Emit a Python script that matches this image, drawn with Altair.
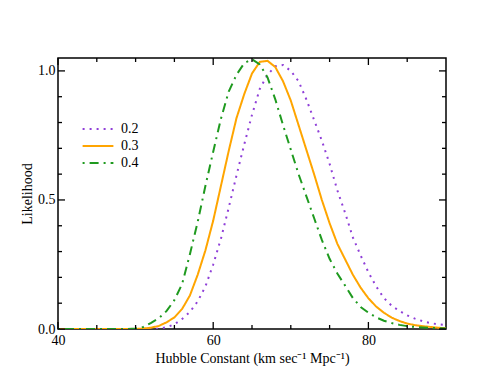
import altair as alt
import pandas as pd

# ---- data ----
hubble = list(range(40, 91))
series = ["0.2", "0.3", "0.4"]

lik_02 = [0.0] * 13 + [
    0.001, 0.007, 0.018, 0.039, 0.066, 0.107, 0.165, 0.25, 0.35, 0.47,
    0.595, 0.715, 0.83, 0.93, 0.985, 1.018, 1.023, 1.0, 0.96, 0.89,
    0.81, 0.73, 0.64, 0.537, 0.45, 0.355, 0.285, 0.22, 0.165, 0.12,
    0.09, 0.07, 0.053, 0.04, 0.03, 0.023, 0.018, 0.015]
lik_03 = [0.0] * 11 + [
    0.002, 0.005, 0.012, 0.026, 0.045, 0.078, 0.13, 0.21, 0.305, 0.42,
    0.555, 0.69, 0.817, 0.91, 0.99, 1.035, 1.039, 1.015, 0.96, 0.885,
    0.79, 0.695, 0.60, 0.50, 0.41, 0.33, 0.27, 0.21, 0.16, 0.119,
    0.087, 0.063, 0.044, 0.031, 0.021, 0.015, 0.011, 0.008, 0.005, 0.003]
lik_04 = [0.0] * 10 + [
    0.002, 0.008, 0.024, 0.042, 0.07, 0.112, 0.175, 0.29, 0.415, 0.555,
    0.687, 0.815, 0.92, 0.985, 1.03, 1.045, 1.025, 0.975, 0.89, 0.79,
    0.695, 0.60, 0.515, 0.43, 0.345, 0.272, 0.215, 0.168, 0.12, 0.085,
    0.063, 0.045, 0.032, 0.023, 0.016, 0.011, 0.008, 0.006, 0.004, 0.003,
    0.002]

x_major = [40, 60, 80]
x_minor = [45, 50, 55, 65, 70, 75, 85]
y_major = [0.0, 0.5, 1.0]
y_minor = [0.1, 0.2, 0.3, 0.4, 0.6, 0.7, 0.8, 0.9]

colors = ["#8f3fd8", "#ffa500", "#1f9a1f"]
dashes = [[2, 5], [1, 0], [2, 5, 9, 5]]

W, H = 388, 271
FONT = "Liberation Serif"
XTITLE = "Hubble Constant (km sec\u207b\u00b9 Mpc\u207b\u00b9)"
YTITLE = "Likelihood"

rows = []
for name, vals in zip(series, [lik_02, lik_03, lik_04]):
    for h, v in zip(hubble, vals):
        rows.append({"h": h, "lik": v, "omega": name})
df = pd.DataFrame(rows)

xscale = alt.Scale(domain=[40, 90], nice=False, zero=False)
yscale = alt.Scale(domain=[0, 1.05], nice=False, zero=False)
xaxis = alt.Axis(values=x_major, ticks=False, tickSize=0, domain=False,
                 grid=False, labelFlush=False, labelPadding=4, titlePadding=4)
yaxis = alt.Axis(values=y_major, format=".1f", ticks=False, tickSize=0,
                 domain=False, grid=False, labelFlush=False, labelPadding=3,
                 titlePadding=3)


def X(field):
    return alt.X(field, scale=xscale, axis=xaxis, title=XTITLE)


def Y(field):
    return alt.Y(field, scale=yscale, axis=yaxis, title=YTITLE)


lines = alt.Chart(df).mark_line(strokeWidth=2, clip=True).encode(
    x=X("h:Q"),
    y=Y("lik:Q"),
    color=alt.Color("omega:N", scale=alt.Scale(domain=series, range=colors),
                    legend=alt.Legend(title=None)),
    strokeDash=alt.StrokeDash("omega:N", scale=alt.Scale(domain=series, range=dashes),
                              legend=alt.Legend(title=None)),
)


def xticks(vals, length):
    d = pd.DataFrame({"v": vals})
    base = alt.Chart(d).mark_rule(color="black", strokeWidth=1.3)
    bottom = base.encode(x=X("v:Q"), y=alt.value(H), y2=alt.value(H - length))
    top = base.encode(x=X("v:Q"), y=alt.value(0), y2=alt.value(length))
    return [bottom, top]


def yticks(vals, length):
    d = pd.DataFrame({"v": vals})
    base = alt.Chart(d).mark_rule(color="black", strokeWidth=1.3)
    left = base.encode(y=Y("v:Q"), x=alt.value(0), x2=alt.value(length))
    right = base.encode(y=Y("v:Q"), x=alt.value(W), x2=alt.value(W - length))
    return [left, right]


layers = [lines] + xticks(x_major, 7) + xticks(x_minor, 4) + yticks(y_major, 7) + yticks(y_minor, 4)

chart = alt.layer(*layers).properties(
    width=W, height=H,
    autosize=alt.AutoSizeParams(type="none"),
    padding={"left": 50, "top": 50, "right": 48, "bottom": 51},
).configure(font=FONT).configure_view(
    stroke="black", strokeWidth=1.5
).configure_axis(
    labelFont=FONT, titleFont=FONT, labelFontSize=14, titleFontSize=14,
    titleFontWeight="normal", labelColor="black", titleColor="black",
).configure_legend(
    orient="none", legendX=32, legendY=63,
    symbolType="M-2.2,0H2.2", symbolSize=196, symbolStrokeWidth=2,
    labelFont=FONT, labelFontSize=14, labelColor="black",
    labelOffset=15, rowPadding=2, padding=0,
)

chart.save("out.html", embed_options={"renderer": "svg", "actions": False})
